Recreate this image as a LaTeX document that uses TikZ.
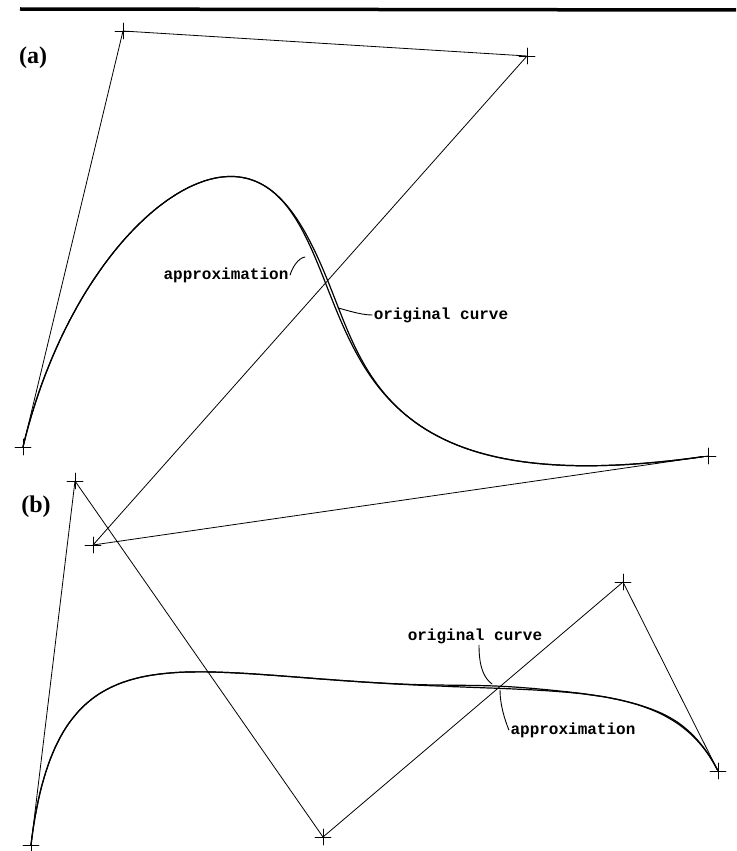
\documentclass[tikz,border=0pt]{standalone}
\usepackage{fontspec}
\usepackage{tikz}
\newfontfamily\typefont{Liberation Mono}
\newfontfamily\headfont{Liberation Serif}
\tikzset{
  ctrl/.style={line width=0.8pt},
  crv/.style={line width=1.2pt},
  lbl/.style={inner sep=1.5pt,font=\typefont\bfseries\fontsize{16}{16}\selectfont},
  part/.style={inner sep=0pt,font=\headfont\bfseries\fontsize{24}{24}\selectfont},
  lead/.style={line width=0.9pt}
}

\begin{document}
\begin{tikzpicture}[x=1pt,y=-1pt,line cap=round,line join=round,
  declare function={bz(\t,\pa,\pb,\pc,\pd,\pe)=(1-\t)^4*\pa+4*\t*(1-\t)^3*\pb+6*\t^2*(1-\t)^2*\pc+4*\t^3*(1-\t)*\pd+\t^4*\pe;}]
\useasboundingbox (0,0) rectangle (736,851);
\draw[line width=3.5pt,line cap=butt](20,9)--(736,10);

\coordinate (a0) at (23,447);
\coordinate (a1) at (123,31);
\coordinate (a2) at (527,56);
\coordinate (a3) at (93,545);
\coordinate (a4) at (708,456);
\coordinate (b0) at (31,845);
\coordinate (b1) at (75,481);
\coordinate (b2) at (323,837);
\coordinate (b3) at (623,582);
\coordinate (b4) at (718,771);

\node[part] (la) at (33,58) {(a)};
\node[part] (lb) at (36,507) {(b)};

\draw[ctrl](a0)--(a1)--(a2)--(a3)--(a4);
\draw[ctrl](b0)--(b1)--(b2)--(b3)--(b4);
\draw[ctrl](a0)+(-8,0)--+(8,0) (a0)+(0,-8)--+(0,8) (a1)+(-8,0)--+(8,0) (a1)+(0,-8)--+(0,8)
(a2)+(-8,0)--+(8,0) (a2)+(0,-8)--+(0,8) (a3)+(-8,0)--+(8,0) (a3)+(0,-8)--+(0,8)
(a4)+(-8,0)--+(8,0) (a4)+(0,-8)--+(0,8);
\draw[ctrl](b0)+(-8,0)--+(8,0) (b0)+(0,-8)--+(0,8) (b1)+(-8,0)--+(8,0) (b1)+(0,-8)--+(0,8)
(b2)+(-8,0)--+(8,0) (b2)+(0,-8)--+(0,8) (b3)+(-8,0)--+(8,0) (b3)+(0,-8)--+(0,8)
(b4)+(-8,0)--+(8,0) (b4)+(0,-8)--+(0,8);

% approximation and original curve
\draw[crv] plot[domain=0:1,samples=150,variable=\t]
  ({bz(\t,23,123,527,93,708)},{bz(\t,447,31,56,545,456)});
\draw[crv] plot[domain=0:1,samples=150,variable=\t]
  ({bz(\t,23,123,527,93,708)+3.2*exp(-((\t-0.61)/0.11)^2)},{bz(\t,447,31,56,545,456)});
\draw[crv] plot[domain=0:1,samples=150,variable=\t]
  ({bz(\t,31,75,323,623,718)},{bz(\t,845,481,837,582,771)});
\draw[crv] plot[domain=0:1,samples=150,variable=\t]
  ({bz(\t,31,75,323,623,718)+2*exp(-((\t-0.9)/0.05)^2)},{bz(\t,845,481,837,582,771)-2.2*exp(-((\t-0.67)/0.07)^2)});

\node[lbl] (apxA) at (226,275) {approximation};
\node[lbl] (orgA) at (441,315) {original curve};
\node[lbl] (orgB) at (475,636) {original curve};
\node[lbl] (apxB) at (573,730) {approximation};
\coordinate (apxAt) at (305,257);
\coordinate (orgAt) at (338,308);
\coordinate (orgBt) at (492,684);
\coordinate (apxBt) at (500,690);
\draw[lead](apxA.east) .. controls +(2,-7) and +(-7,1) .. (apxAt);
\draw[lead](orgAt) .. controls +(5,1) and +(-12,0) .. (orgA.west);
\draw[lead]([xshift=4pt]orgB.south) .. controls +(0,22) and +(-8,-6) .. (orgBt);
\draw[lead](apxBt) .. controls +(0,15) and +(-4,-10) .. (apxB.west);
\end{tikzpicture}
\end{document}
